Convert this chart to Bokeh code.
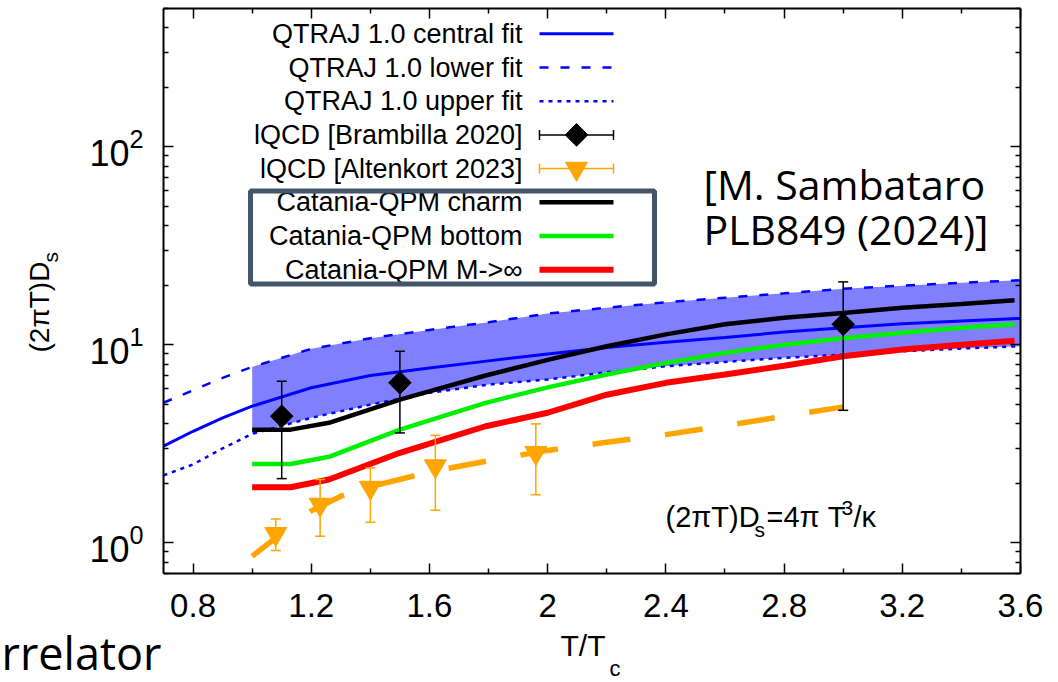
import numpy as np
from bokeh.plotting import figure
from bokeh.models import (ColumnDataSource, Whisker, TeeHead, Label, BoxAnnotation,
                          LinearAxis, LogAxis, FixedTicker, CustomJSTickFormatter, LogTickFormatter)
from bokeh.embed import file_html
from bokeh.resources import INLINE

# ---------------- data ----------------
qtraj_x = [0.7, 0.8, 0.9, 1.0, 1.2, 1.4, 1.6, 1.8, 2.0, 2.2, 2.4, 2.6, 2.8, 3.0, 3.2, 3.4, 3.6]
qtraj_central = [3.08, 3.66, 4.28, 4.9, 6.07, 7.0, 7.65, 8.3, 9.0, 9.7, 10.3, 10.9, 11.6, 12.2, 12.8, 13.2, 13.6]
qtraj_lower = [5.1, 5.9, 6.81, 7.74, 9.55, 10.8, 11.9, 13.0, 14.4, 15.4, 16.4, 17.3, 18.2, 19.2, 19.9, 20.6, 21.2]
qtraj_upper = [2.19, 2.49, 3.0, 3.55, 4.28, 4.99, 5.72, 6.3, 6.68, 7.27, 7.8, 8.2, 8.6, 8.93, 9.28, 9.58, 9.84]
band_start = 1.0

qpm_x = [1.0, 1.13, 1.26, 1.5, 1.79, 2.0, 2.2, 2.4, 2.6, 2.8, 3.0, 3.2, 3.4, 3.58]
qpm_charm = [3.73, 3.73, 4.04, 5.29, 7.0, 8.4, 9.84, 11.3, 12.7, 13.7, 14.5, 15.4, 16.1, 16.8]
qpm_bottom = [2.5, 2.5, 2.72, 3.73, 5.09, 6.1, 7.08, 8.11, 9.11, 10.0, 10.8, 11.5, 12.2, 12.7]
qpm_inf = [1.91, 1.91, 2.09, 2.85, 3.88, 4.54, 5.6, 6.43, 7.08, 7.85, 8.75, 9.47, 10.0, 10.5]

bram_x = [1.1, 1.5, 3.0]
bram_y = [4.36, 6.43, 12.7]
bram_lo = [2.11, 3.59, 4.67]
bram_hi = [6.55, 9.28, 20.8]

alt_x = [1.08, 1.23, 1.40, 1.62, 1.96]
alt_y = [1.11, 1.56, 1.90, 2.44, 2.85]
alt_lo = [0.915, 1.08, 1.27, 1.46, 1.75]
alt_hi = [1.32, 2.09, 2.39, 3.49, 3.99]
alt_fit_x = [1.0, 1.1, 1.2, 1.3, 1.4, 1.6, 1.8, 2.0, 2.2, 2.4, 2.6, 2.8, 3.0]
alt_fit_y = [0.855, 1.12, 1.45, 1.72, 1.92, 2.28, 2.6, 2.93, 3.22, 3.52, 3.91, 4.36, 4.86]

x_major = [0.8, 1.2, 1.6, 2.0, 2.4, 2.8, 3.2, 3.6]
x_minor = [1.0, 1.4, 1.8, 2.2, 2.6, 3.0, 3.4]
y_major = [1, 10, 100]
y_minor = [0.7, 0.8, 0.9, 2, 3, 4, 5, 6, 7, 8, 9, 20, 30, 40, 50, 60, 70, 80, 90, 200, 300, 400, 500]

legend_labels = ["QTRAJ 1.0 central fit", "QTRAJ 1.0 lower fit", "QTRAJ 1.0 upper fit",
                 "lQCD [Brambilla 2020]", "lQCD [Altenkort 2023]",
                 "Catania-QPM charm", "Catania-QPM bottom", "Catania-QPM M->\u221e"]

# ---------------- layout ----------------
W, H = 1058, 682
FL, FR, FT, FB = 163, 1020, 8, 573          # the plotting box inside the canvas
XMIN, XMAX = 0.7, 3.6
YMIN, YMAX = 0.7, 500.0
KX = (XMAX - XMIN) / (FR - FL)
KY = (np.log10(YMAX) - np.log10(YMIN)) / (FB - FT)


def dx(px):
    return XMIN + (px - FL) * KX


def dy(py):
    return 10 ** (np.log10(YMIN) + (FB - py) * KY)


BLUE, BAND, ORANGE, GREEN, RED = "#0000ff", "#8080ff", "#ffa500", "#00f000", "#ff0000"
FONT = "Liberation Sans"

# the frame fills the canvas; the axes are pinned to the plotting box edges
p = figure(width=W, height=H, x_range=(dx(0), dx(W)), y_range=(dy(H), dy(0)), y_axis_type="log",
           output_backend="svg", toolbar_location=None,
           min_border_left=0, min_border_right=0, min_border_top=0, min_border_bottom=0)
p.grid.visible = False
p.outline_line_color = None
p.background_fill_color = "white"
p.border_fill_color = "white"

xt = FixedTicker(ticks=x_major, minor_ticks=x_minor)
yt = FixedTicker(ticks=y_major, minor_ticks=y_minor)
blank = CustomJSTickFormatter(code="return ''")


def style_axis(ax):
    ax.axis_line_width = 2
    ax.axis_line_color = "black"
    ax.major_tick_in = 10
    ax.major_tick_out = 0
    ax.minor_tick_in = 5
    ax.minor_tick_out = 0
    ax.major_tick_line_width = 1.5
    ax.minor_tick_line_width = 1.5


xa = p.xaxis[0]
xa.ticker = xt
xa.fixed_location = YMIN
xa.bounds = (XMIN, XMAX)
style_axis(xa)
xa.major_label_text_font = FONT
xa.major_label_text_font_size = "33px"
xa.major_label_text_color = "black"
xa.major_label_standoff = 20

ya = p.yaxis[0]
ya.ticker = yt
ya.formatter = LogTickFormatter()
ya.fixed_location = XMIN
ya.bounds = (YMIN, YMAX)
style_axis(ya)
ya.major_label_text_font = FONT
ya.major_label_text_font_size = "36px"
ya.major_label_text_color = "black"
ya.major_label_standoff = 20

top = LinearAxis(ticker=xt, formatter=blank, major_label_standoff=0, fixed_location=YMAX,
                 bounds=(XMIN, XMAX))
style_axis(top)
p.add_layout(top, "above")
right = LogAxis(ticker=yt, formatter=blank, major_label_standoff=0, fixed_location=XMAX,
                bounds=(YMIN, YMAX))
style_axis(right)
p.add_layout(right, "right")

# ---------------- data marks ----------------
bx = [x for x in qtraj_x if x >= band_start]
bi = [i for i, x in enumerate(qtraj_x) if x >= band_start]
p.varea(x=bx, y1=[qtraj_upper[i] for i in bi], y2=[qtraj_lower[i] for i in bi], fill_color=BAND)

p.line(qtraj_x, qtraj_central, line_color=BLUE, line_width=3)
p.line(qtraj_x, qtraj_lower, line_color=BLUE, line_width=2.5, line_dash="9 12")
p.line(qtraj_x, qtraj_upper, line_color=BLUE, line_width=2.5, line_dash="4 5")

p.line(alt_fit_x, alt_fit_y, line_color=ORANGE, line_width=5.5, line_dash="38 35")

p.line(qpm_x, qpm_charm, line_color="black", line_width=4.5)
p.line(qpm_x, qpm_bottom, line_color=GREEN, line_width=4.5)
p.line(qpm_x, qpm_inf, line_color=RED, line_width=6)

bsrc = ColumnDataSource(dict(x=bram_x, y=bram_y, lo=bram_lo, hi=bram_hi))
asrc = ColumnDataSource(dict(x=alt_x, y=alt_y, lo=alt_lo, hi=alt_hi))
for src, col in ((bsrc, "black"), (asrc, ORANGE)):
    w = Whisker(source=src, base="x", lower="lo", upper="hi", line_color=col, line_width=1.5,
                lower_head=TeeHead(size=10, line_color=col, line_width=1.5),
                upper_head=TeeHead(size=10, line_color=col, line_width=1.5), level="glyph")
    p.add_layout(w)
p.scatter("x", "y", source=bsrc, marker="square", angle=np.pi / 4, size=16,
          fill_color="black", line_color="black")
p.scatter("x", "y", source=asrc, marker="inverted_triangle", size=22,
          fill_color=ORANGE, line_color=ORANGE)

# ---------------- hand-made legend ----------------
row_y = [33.3 + 33.7 * i for i in range(len(legend_labels))]
text_right, s0, s1 = 522, 539, 613
smid = (s0 + s1) / 2
for lab, ry in zip(legend_labels, row_y):
    p.add_layout(Label(x=dx(text_right), y=dy(ry), text=lab, text_align="right",
                       text_baseline="middle", text_font=FONT, text_font_size="27px",
                       text_color="black"))
styles = [dict(line_color=BLUE, line_width=3), dict(line_color=BLUE, line_width=2.5, line_dash="9 12"),
          dict(line_color=BLUE, line_width=2.5, line_dash="4 5"), dict(line_color="black", line_width=1.5),
          dict(line_color=ORANGE, line_width=1.5), dict(line_color="black", line_width=4.5),
          dict(line_color=GREEN, line_width=4.5), dict(line_color=RED, line_width=6)]
for st, ry in zip(styles, row_y):
    p.line([dx(s0), dx(s1)], [dy(ry), dy(ry)], **st)
for i, col in ((3, "black"), (4, ORANGE)):
    ry = row_y[i]
    p.segment(x0=[dx(s0), dx(s1)], y0=[dy(ry - 5)] * 2, x1=[dx(s0), dx(s1)], y1=[dy(ry + 5)] * 2,
              line_color=col, line_width=1.5)
p.scatter([dx(smid)], [dy(row_y[3])], marker="square", angle=np.pi / 4, size=16,
          fill_color="black", line_color="black")
p.scatter([dx(smid)], [dy(row_y[4])], marker="inverted_triangle", size=22,
          fill_color=ORANGE, line_color=ORANGE)
p.add_layout(BoxAnnotation(left=dx(250), right=dx(654), top=dy(190.5), bottom=dy(283.5),
                           fill_alpha=0, fill_color=None, line_color="#44546a", line_alpha=1.0,
                           line_width=5))

# ---------------- texts (positioned by their vertical centre) ----------------
def put(text, px, py, size, font=FONT, align="left", angle=0.0):
    p.add_layout(Label(x=dx(px), y=dy(py), text=text, text_font=font, text_font_size=f"{size}px",
                       text_align=align, text_baseline="middle", angle=angle, text_color="black"))

# formula (2πT)D_s = 4π T^3/κ
put("(2\u03c0T)D", 665, 516, 29)
put("s", 754, 529, 21)
put("=4\u03c0 T", 766, 516, 29)
put("3", 841, 507, 21)
put("/\u03ba", 853, 516, 29)

# axis titles
put("T/T", 560, 645, 30)
put("c", 609, 668, 22)
put("(2\u03c0T)D", 39, 352, 28, angle=np.pi / 2)
put("s", 50, 262, 21, angle=np.pi / 2)

# slide texts
put("[M. Sambataro", 703, 183, 41, font="Open Sans")
put("PLB849 (2024)]", 703, 228, 41, font="Open Sans")
put("rrelator", 1, 652, 45, font="Open Sans")

open("out.html", "w").write(file_html(p, INLINE))
